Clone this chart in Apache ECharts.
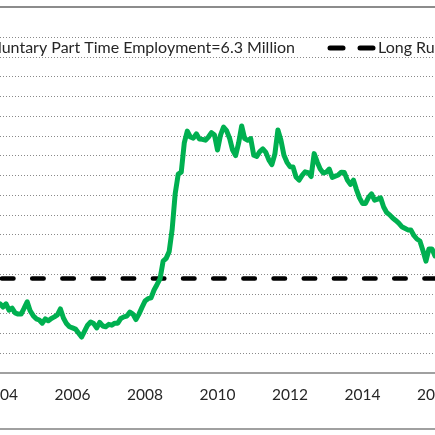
<!DOCTYPE html>
<html>
<head>
<meta charset="utf-8">
<style>
  html, body { margin: 0; padding: 0; background: #fff; overflow: hidden; }
  #chart { width: 435px; height: 435px; }
</style>
<script src="https://cdn.jsdelivr.net/npm/echarts@6/dist/echarts.min.js"></script>
</head>
<body>
<div id="chart"></div>
<script>
// 月度数据：2004年1月 - 2016年1月（百万人）
const startYear = 2004;
const endYear = 2016;

const values2004 = [4.75, 4.67, 4.75, 4.59, 4.64, 4.52, 4.49, 4.49, 4.64, 4.80, 4.57, 4.45];
const values2005 = [4.37, 4.34, 4.26, 4.37, 4.32, 4.38, 4.42, 4.47, 4.62, 4.39, 4.25, 4.17];
const values2006 = [4.14, 4.11, 4.01, 3.91, 4.06, 4.21, 4.29, 4.25, 4.14, 4.28, 4.19, 4.17];
const values2007 = [4.23, 4.21, 4.26, 4.26, 4.38, 4.42, 4.44, 4.54, 4.49, 4.35, 4.49, 4.66];
const values2008 = [4.82, 4.88, 4.90, 5.10, 5.24, 5.39, 5.83, 5.90, 6.07, 6.64, 7.54, 8.03];
const values2009 = [8.08, 8.82, 9.12, 8.97, 8.94, 9.05, 8.92, 8.91, 8.89, 8.97, 9.08, 9.02];
const values2010 = [8.64, 9.02, 9.22, 9.13, 8.94, 8.64, 8.50, 8.82, 9.25, 8.93, 8.89, 8.93];
const values2011 = [8.51, 8.48, 8.60, 8.67, 8.58, 8.39, 8.27, 8.54, 9.15, 8.89, 8.51, 8.33];
const values2012 = [8.22, 8.21, 7.96, 7.88, 8.00, 8.09, 8.07, 7.97, 8.55, 8.34, 8.16, 8.06];
const values2013 = [8.08, 8.16, 7.95, 7.98, 8.01, 8.08, 8.07, 7.88, 7.77, 7.88, 7.64, 7.43];
const values2014 = [7.29, 7.29, 7.44, 7.53, 7.37, 7.40, 7.43, 7.20, 7.06, 7.00, 6.92, 6.86];
const values2015 = [6.79, 6.70, 6.66, 6.62, 6.62, 6.48, 6.39, 6.34, 6.10, 5.83, 6.14, 6.14];
const values2016 = [5.96];

const longRunAverage = 5.40;

const seriesName = 'Involuntary Part Time Employment=6.3 Million';
const longRunName = 'Long Run Average';

// 月份类目
const months = [];
for (let y = startYear; y <= endYear; y++) {
    for (let m = 1; m <= 12; m++) {
        if (y === endYear && m > 1) break;
        months.push(y + '-' + (m < 10 ? '0' + m : m));
    }
}

const employment = [].concat(values2004, values2005, values2006, values2007, values2008,
    values2009, values2010, values2011, values2012, values2013, values2014, values2015, values2016);

const green = '#00B050';
const textColor = '#262626';
const fontFamily = 'Lato, "Open Sans", sans-serif';

const chart = echarts.init(document.getElementById('chart'));

chart.setOption({
    animation: false,
    grid: { left: 0, right: 0, top: 37, bottom: 62, containLabel: false, outerBoundsMode: 'none' },
    xAxis: {
        type: 'category',
        data: months,
        boundaryGap: false,
        axisLine: { lineStyle: { color: '#a0a0a0', width: 2 } },
        axisTick: { show: false },
        axisLabel: {
            interval: (idx) => idx % 24 === 0,
            formatter: (v) => v.slice(0, 4),
            color: textColor,
            fontFamily: fontFamily,
            fontSize: 15.5,
            margin: 14,
            showMinLabel: true,
            showMaxLabel: true
        },
        splitLine: { show: false }
    },
    yAxis: {
        type: 'value',
        min: 3,
        max: 11.5,
        interval: 0.5,
        axisLine: { show: false },
        axisTick: { show: false },
        axisLabel: { show: false },
        splitLine: { lineStyle: { color: '#8a8a8a', width: 1, type: [1, 2] } }
    },
    series: [
        {
            name: seriesName,
            type: 'line',
            data: employment,
            showSymbol: false,
            symbol: 'none',
            lineStyle: { color: green, width: 5, join: 'round', cap: 'round' },
            z: 3,
            markLine: {
                silent: true,
                symbol: 'none',
                label: { show: false },
                lineStyle: { color: '#000', width: 4.5, type: [11.5, 18.67], dashOffset: -2, cap: 'round' },
                data: [{ yAxis: longRunAverage }],
                z: 2
            }
        }
    ],
    graphic: [
        // 图表边框（上下）
        { type: 'line', shape: { x1: 0, y1: 7, x2: 435, y2: 7 }, style: { stroke: '#8c8c8c', lineWidth: 2 } },
        { type: 'line', shape: { x1: 0, y1: 429, x2: 435, y2: 429 }, style: { stroke: '#a0a0a0', lineWidth: 2 } },
        // 图例
        { type: 'line', shape: { x1: -95, y1: 48, x2: -50, y2: 48 }, style: { stroke: green, lineWidth: 5 } },
        {
            type: 'text', x: 295, y: 48,
            style: { text: seriesName, align: 'right', verticalAlign: 'middle', fill: textColor, font: '16px ' + fontFamily }
        },
        { type: 'line', shape: { x1: 330, y1: 48, x2: 343, y2: 48 }, style: { stroke: '#000', lineWidth: 5, lineCap: 'round' } },
        { type: 'line', shape: { x1: 360, y1: 48, x2: 373, y2: 48 }, style: { stroke: '#000', lineWidth: 5, lineCap: 'round' } },
        {
            type: 'text', x: 378, y: 48,
            style: { text: longRunName, align: 'left', verticalAlign: 'middle', fill: textColor, font: '16px ' + fontFamily }
        }
    ]
});

window.addEventListener('resize', () => chart.resize());
</script>
</body>
</html>
